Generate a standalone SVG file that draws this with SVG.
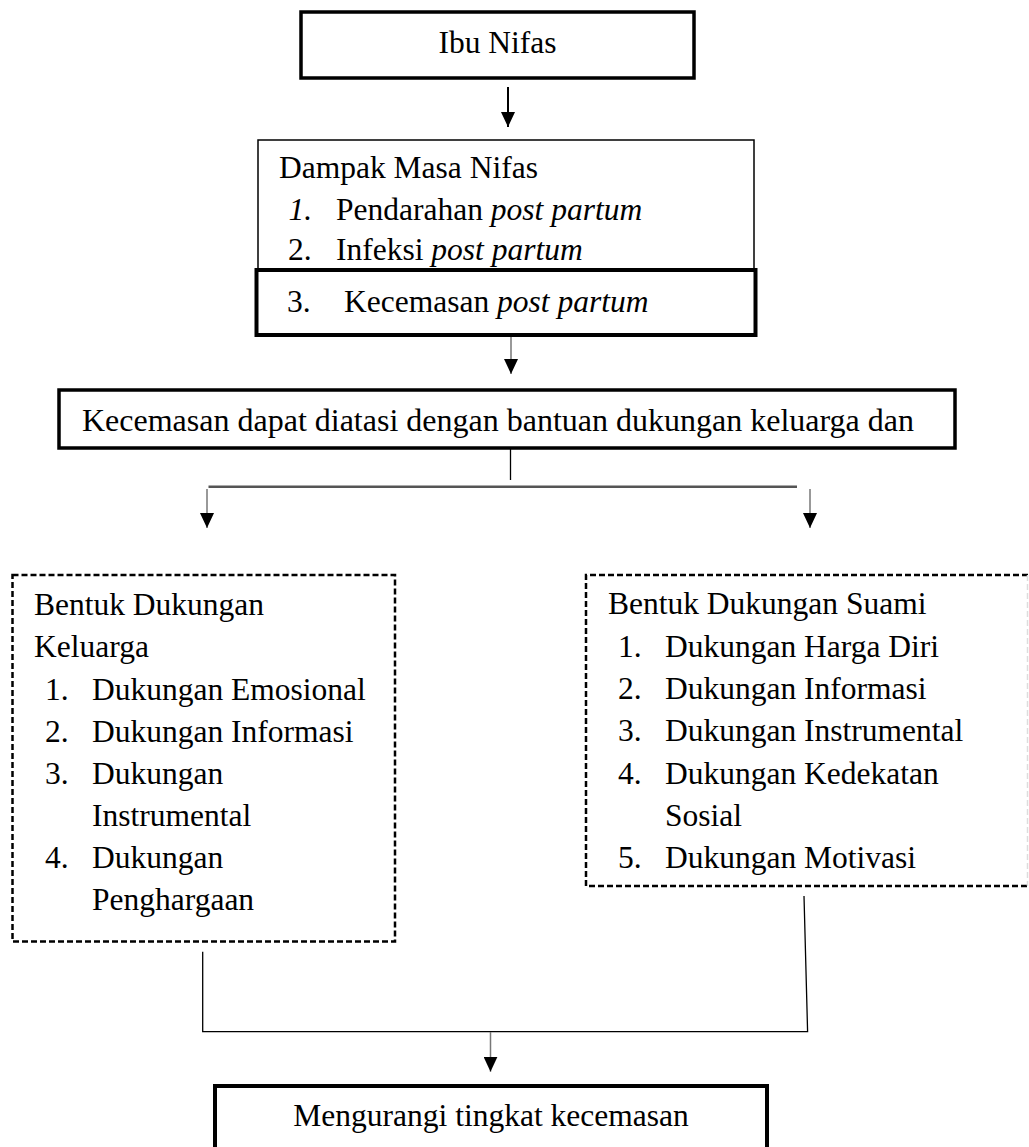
<svg xmlns="http://www.w3.org/2000/svg" width="1029" height="1147" viewBox="0 0 1029 1147">
<defs>
<style>
.t{font-family:"Liberation Serif","Times New Roman",serif;font-size:31.5px;fill:#000}
.i{font-style:italic}
.box{fill:#fff;stroke:#000}
.dash{fill:none;stroke:#000;stroke-width:2.5;stroke-dasharray:6 3}
.shaft{stroke:#777;stroke-width:1.5;fill:none}
.conn{stroke:#000;stroke-width:1.3;fill:none}
</style>
<marker id="ah" viewBox="0 0 15 14" markerWidth="15" markerHeight="14" refX="15" refY="7" orient="auto" markerUnits="userSpaceOnUse">
<path d="M0,0 L15,7 L0,14 z" fill="#000"/>
</marker>
</defs>
<rect width="1029" height="1147" fill="#fff"/>

<g id="ibu-nifas">
<rect class="box" x="301" y="12" width="393" height="66" stroke-width="3.5"/>
<text class="t" x="497.5" y="53" text-anchor="middle">Ibu Nifas</text>
</g>

<g id="dampak">
<rect class="box" x="258" y="140" width="496" height="140" stroke-width="1.5"/>
<text class="t" x="279" y="178">Dampak Masa Nifas</text>
<text class="t i" x="288.5" y="220">1.</text>
<text class="t" x="336" y="220">Pendarahan <tspan class="i">post partum</tspan></text>
<text class="t" x="288" y="260">2.</text>
<text class="t" x="336" y="260">Infeksi <tspan class="i">post partum</tspan></text>
</g>

<g id="kecemasan-post-partum">
<rect class="box" x="256.5" y="270" width="499" height="65" stroke-width="4"/>
<text class="t" x="287" y="312">3.</text>
<text class="t" x="344" y="312">Kecemasan <tspan class="i">post partum</tspan></text>
</g>

<g id="kecemasan-diatasi">
<rect class="box" x="59" y="390" width="896" height="58" stroke-width="3.5"/>
<text class="t" x="82" y="431" style="font-size:32px">Kecemasan dapat diatasi dengan bantuan dukungan keluarga dan</text>
</g>

<g id="dukungan-keluarga">
<rect class="dash" x="12.5" y="575" width="382.5" height="366.5"/>
<text class="t" x="34" y="615">Bentuk Dukungan</text>
<text class="t" x="34" y="657">Keluarga</text>
<text class="t" x="45" y="700">1.</text>
<text class="t" x="92" y="700">Dukungan Emosional</text>
<text class="t" x="45" y="742">2.</text>
<text class="t" x="92" y="742">Dukungan Informasi</text>
<text class="t" x="45" y="784">3.</text>
<text class="t" x="92" y="784">Dukungan</text>
<text class="t" x="92" y="826">Instrumental</text>
<text class="t" x="45" y="868">4.</text>
<text class="t" x="92" y="868">Dukungan</text>
<text class="t" x="92" y="910">Penghargaan</text>
</g>

<g id="dukungan-suami">
<path class="dash" d="M1028,575 H586 V886 H1028"/>
<path d="M1027.5,575 V886" fill="none" stroke="#ddd" stroke-width="1.5" stroke-dasharray="6 3"/>
<text class="t" x="608" y="614">Bentuk Dukungan Suami</text>
<text class="t" x="618" y="657">1.</text>
<text class="t" x="665" y="657">Dukungan Harga Diri</text>
<text class="t" x="618" y="699">2.</text>
<text class="t" x="665" y="699">Dukungan Informasi</text>
<text class="t" x="618" y="741">3.</text>
<text class="t" x="665" y="741">Dukungan Instrumental</text>
<text class="t" x="618" y="784">4.</text>
<text class="t" x="665" y="784">Dukungan Kedekatan</text>
<text class="t" x="665" y="826">Sosial</text>
<text class="t" x="618" y="868">5.</text>
<text class="t" x="665" y="868">Dukungan Motivasi</text>
</g>

<g id="mengurangi">
<rect class="box" x="215" y="1086" width="552" height="90" stroke-width="4"/>
<text class="t" x="491" y="1126" text-anchor="middle">Mengurangi tingkat kecemasan</text>
</g>

<g id="connectors">
<line x1="508" y1="87" x2="508" y2="127" stroke="#000" stroke-width="2" marker-end="url(#ah)"/>
<line class="shaft" x1="511" y1="337" x2="511" y2="374" marker-end="url(#ah)"/>
<line class="conn" x1="510.5" y1="448" x2="510.5" y2="480"/>
<line x1="208.5" y1="486.7" x2="797" y2="486.7" stroke="#555" stroke-width="2.5"/>
<line class="shaft" x1="207" y1="489" x2="207" y2="528" marker-end="url(#ah)"/>
<line class="shaft" x1="810" y1="489" x2="810" y2="528" marker-end="url(#ah)"/>
<polyline class="conn" points="202.7,951.7 202.7,1031.7 807.6,1031.7 804,896"/>
<line class="shaft" x1="490.5" y1="1032" x2="490.5" y2="1071.7" marker-end="url(#ah)"/>
</g>
</svg>
